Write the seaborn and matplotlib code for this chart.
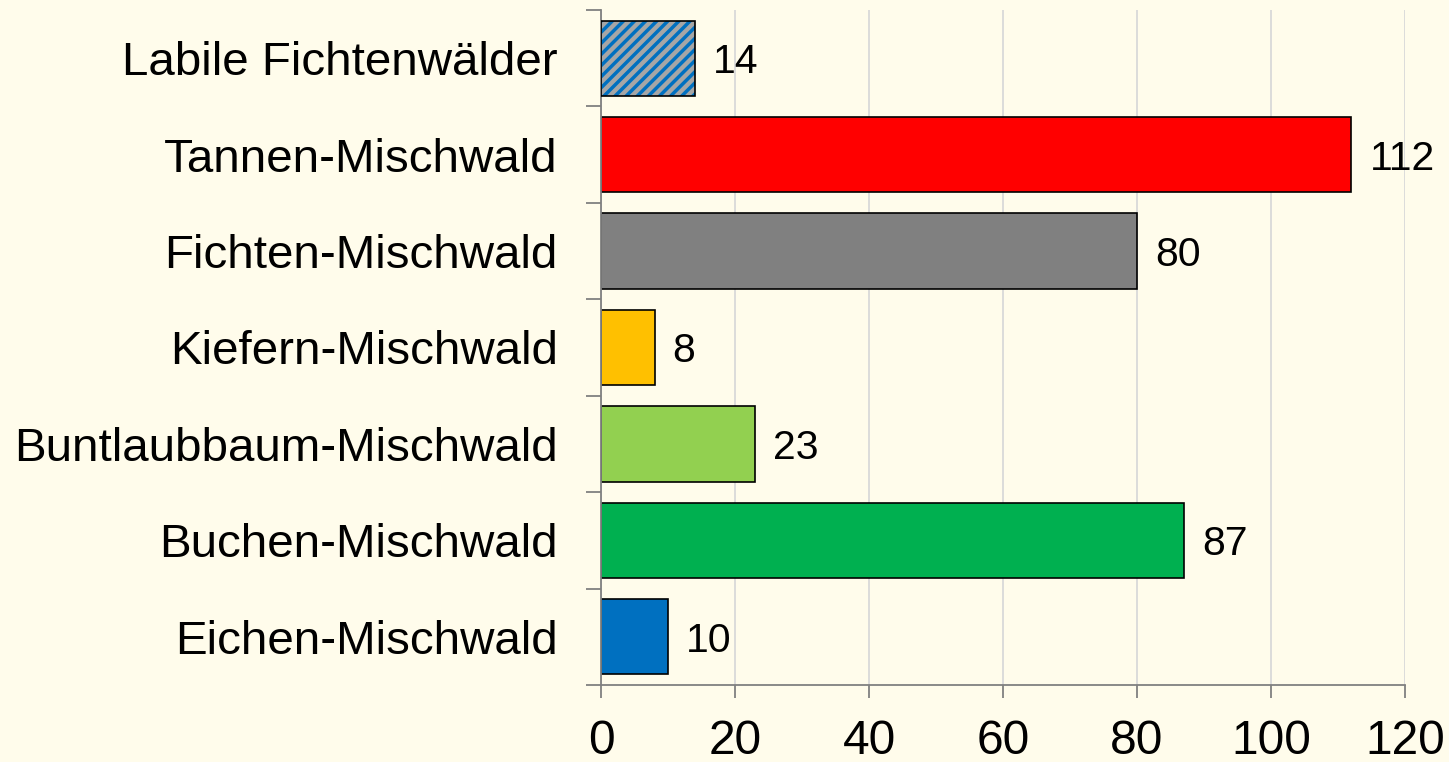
import numpy as np
import pandas as pd
import matplotlib.pyplot as plt
import seaborn as sns

sns.set_theme(style="white")
plt.rcParams["font.family"] = ["Liberation Sans", "DejaVu Sans"]
plt.rcParams["hatch.linewidth"] = 2.5

# data, top to bottom
categories = ["Labile Fichtenwälder", "Tannen-Mischwald", "Fichten-Mischwald",
              "Kiefern-Mischwald", "Buntlaubbaum-Mischwald", "Buchen-Mischwald",
              "Eichen-Mischwald"]
values = [14, 112, 80, 8, 23, 87, 10]
colors = ["#A6A6A6", "#FF0000", "#808080", "#FFC000", "#92D050", "#00B050", "#0070C0"]
x_ticks = [0, 20, 40, 60, 80, 100, 120]

bg = "#FFFCEB"
df = pd.DataFrame({"category": categories, "value": values})

fig = plt.figure(figsize=(14.49, 7.62), dpi=100, facecolor=bg)
ax = fig.add_axes([601 / 1449, 1 - 685 / 762, (1405 - 601) / 1449, (685 - 10) / 762])
ax.set_facecolor(bg)

sns.barplot(data=df, x="value", y="category", hue="category", palette=colors,
            saturation=1, legend=False, orient="h", width=0.78, edgecolor="black",
            linewidth=1.2, ax=ax, zorder=2)

# hatched first bar: blue stripes on grey, black outline on top
bars = ax.patches
hb = bars[0]
hb.set_hatch("///")
hb.set_edgecolor("#0070C0")
hb.set_linewidth(0)
ax.barh(hb.get_y() + hb.get_height() / 2, values[0], height=hb.get_height(),
        fill=False, edgecolor="black", linewidth=1.2, zorder=3)

for c in ax.containers[:len(categories)]:
    for t in ax.bar_label(c, padding=13, fontsize=29.5, color="black"):
        t.set_va("center_baseline")

ax.set_xlim(0, 120)
ax.set_ylim(len(categories) - 0.5, -0.5)
ax.set_xticks(x_ticks)
ax.set_xticklabels([str(t) for t in x_ticks])
ax.set_yticks(np.arange(-0.5, len(categories) + 0.5, 1), minor=True)

ax.tick_params(axis="y", which="major", length=0, pad=31, labelsize=34.2, colors="black")
ax.tick_params(axis="y", which="minor", left=True, length=10.5, width=1.3, color="#808080")
ax.tick_params(axis="x", which="major", bottom=True, length=9.5, width=1.3,
               color="#808080", pad=15, labelsize=34.5, labelcolor="black")

ax.grid(axis="x", color="#D9D9D9", linewidth=1.3, zorder=0)
ax.set_axisbelow(True)
ax.set_xlabel("")
ax.set_ylabel("")
for s in ["top", "right"]:
    ax.spines[s].set_visible(False)
for s in ["left", "bottom"]:
    ax.spines[s].set_color("#808080")
    ax.spines[s].set_linewidth(1.3)

fig.savefig("out.png", dpi=100, facecolor=bg)
